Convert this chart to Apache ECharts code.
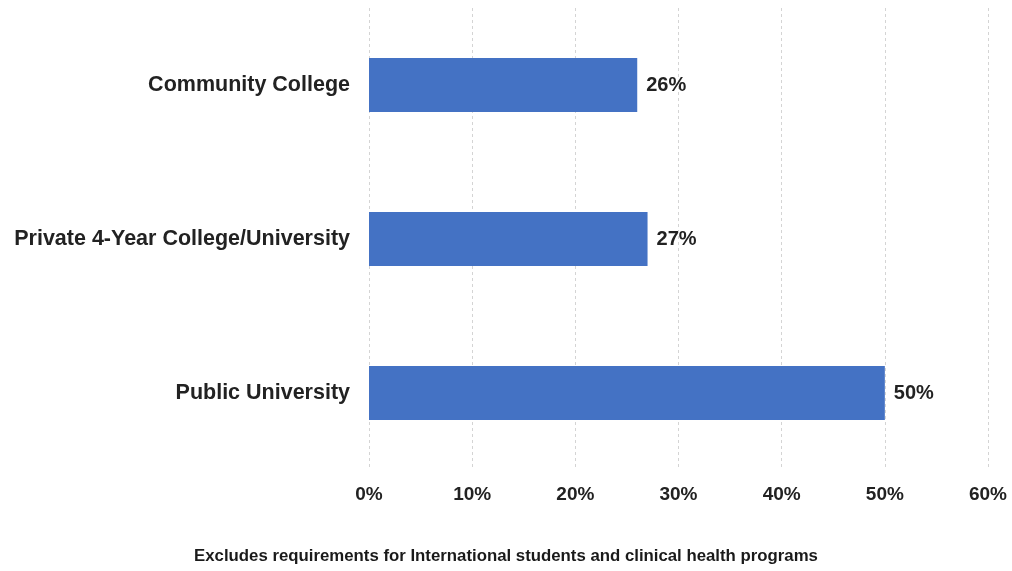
<!DOCTYPE html>
<html><head><meta charset="utf-8">
<script src="https://cdn.jsdelivr.net/npm/echarts@6/dist/echarts.min.js"></script>
<style>html,body{margin:0;padding:0;background:#fff}#c{width:1012px;height:571px}</style>
</head><body><div id="c"></div>
<script>
const categories = ["Public University", "Private 4-Year College/University", "Community College"];
const values = [50, 27, 26];
const xTicks = [0, 10, 20, 30, 40, 50, 60];
const footnote = "Excludes requirements for International students and clinical health programs";

const chart = echarts.init(document.getElementById('c'), null, {renderer: 'canvas'});
chart.setOption({
  animation: false,
  backgroundColor: '#fff',
  textStyle: {fontFamily: 'Liberation Sans, Arial, sans-serif'},
  grid: {left: 369, right: 24, top: 8, bottom: 101, containLabel: false},
  graphic: [{
    type: 'text', left: 'center', top: 548,
    style: {text: footnote, font: 'bold 16.8px "Liberation Sans", Arial, sans-serif', fill: '#1a1a1a'}
  }],
  xAxis: {
    type: 'value', min: xTicks[0], max: xTicks[xTicks.length - 1], interval: 10,
    axisLine: {show: false}, axisTick: {show: false},
    axisLabel: {formatter: '{value}%', fontSize: 19, fontWeight: 'bold', color: '#222', margin: 15},
    splitLine: {show: true, lineStyle: {color: '#d4d4d4', type: [3, 3], width: 1}}
  },
  yAxis: {
    type: 'category', data: categories,
    axisLine: {show: false}, axisTick: {show: false},
    axisLabel: {fontSize: 21.5, fontWeight: 'bold', color: '#222', margin: 19}
  },
  series: [{
    type: 'bar', data: values, barWidth: '35%',
    itemStyle: {color: '#4472C4'},
    label: {show: true, position: 'right', distance: 9, formatter: '{c}%', fontSize: 20, fontWeight: 'bold', color: '#222'}
  }]
});
</script></body></html>
